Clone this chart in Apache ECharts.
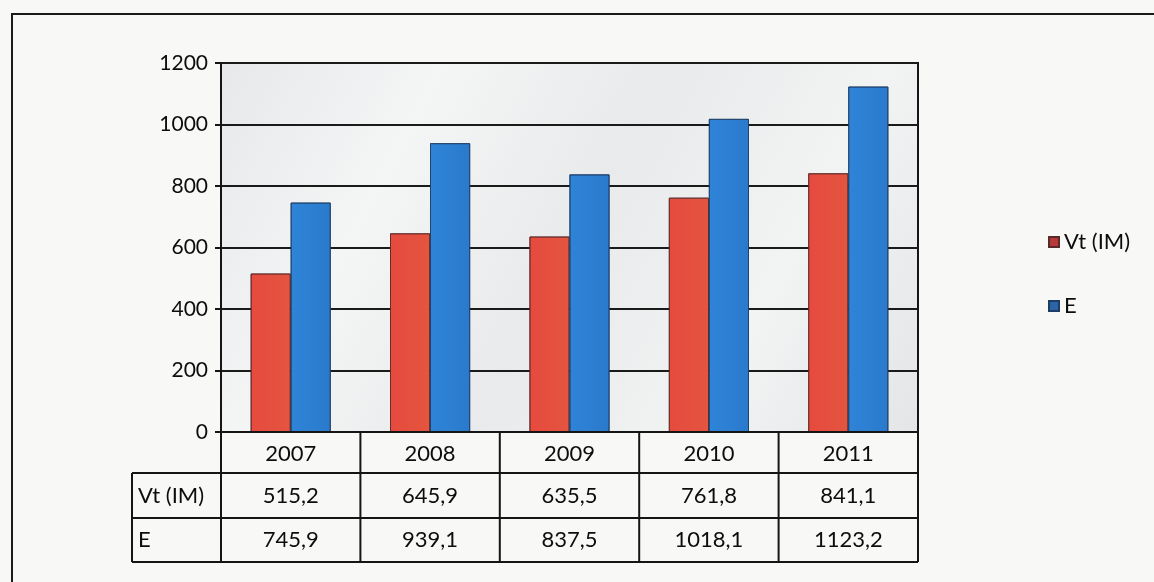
<!DOCTYPE html>
<html>
<head>
<meta charset="utf-8">
<script src="https://cdn.jsdelivr.net/npm/echarts@6/dist/echarts.min.js"></script>
<style>
  html, body { margin: 0; padding: 0; background: #f8f8f6; }
  #chart { width: 1154px; height: 582px; }
</style>
</head>
<body>
<div id="chart"></div>
<script>
const categories = ['2007', '2008', '2009', '2010', '2011'];
const seriesNames = ['Vt (IM)', 'E'];
const vtValues = [515.2, 645.9, 635.5, 761.8, 841.1];
const eValues = [745.9, 939.1, 837.5, 1018.1, 1123.2];
const vtLabels = ['515,2', '645,9', '635,5', '761,8', '841,1'];
const eLabels = ['745,9', '939,1', '837,5', '1018,1', '1123,2'];

const FONT = 'Lato, "Open Sans", sans-serif';
const GRID = { left: 221, right: 236, top: 63, bottom: 150 };
const W = 1154, H = 582;

const chart = echarts.init(document.getElementById('chart'), null, { renderer: 'canvas' });

const option = {
  backgroundColor: '#f8f8f6',
  animation: false,
  grid: {
    left: GRID.left, right: GRID.right, top: GRID.top, bottom: GRID.bottom,
    show: true,
    borderColor: '#151515',
    borderWidth: 2,
    backgroundColor: {
      type: 'linear', x: 0, y: 0, x2: 1, y2: 1,
      colorStops: [
        { offset: 0, color: '#e6e8ea' },
        { offset: 0.25, color: '#f4f5f5' },
        { offset: 0.5, color: '#e8eaeb' },
        { offset: 0.75, color: '#f2f3f3' },
        { offset: 1, color: '#e3e5e7' }
      ]
    }
  },
  legend: {
    orient: 'vertical',
    left: 1043,
    top: 226,
    itemWidth: 10,
    itemHeight: 10,
    itemGap: 42,
    icon: 'rect',
    textStyle: { fontFamily: FONT, fontSize: 22, color: '#0d0d0d' },
    data: [
      { name: seriesNames[0], itemStyle: { color: '#b8393a' } },
      { name: seriesNames[1], itemStyle: { color: '#2d64a6' } }
    ]
  },
  xAxis: {
    type: 'category',
    data: categories,
    axisLine: { show: true, lineStyle: { color: '#151515', width: 2 } },
    axisTick: { show: false },
    axisLabel: { show: false },
    splitLine: { show: false }
  },
  yAxis: {
    type: 'value',
    min: 0,
    max: 1200,
    interval: 200,
    axisLine: { show: true, lineStyle: { color: '#151515', width: 2 } },
    axisTick: { show: true, length: 6, lineStyle: { color: '#151515', width: 2 } },
    axisLabel: {
      fontFamily: FONT, fontSize: 21, color: '#0d0d0d', margin: 13,
      formatter: v => String(v)
    },
    splitLine: { show: true, lineStyle: { color: '#1a1a1a', width: 2 } }
  },
  series: [
    {
      name: seriesNames[0], type: 'bar', data: vtValues,
      barWidth: 40, barGap: '0%',
      itemStyle: {
        color: { type: 'linear', x: 0, y: 0, x2: 1, y2: 0,
          colorStops: [{ offset: 0, color: '#e64a3e' }, { offset: 1, color: '#e4553f' }] },
        borderColor: '#5a2a2a', borderWidth: 0.8
      }
    },
    {
      name: seriesNames[1], type: 'bar', data: eValues,
      barWidth: 40,
      itemStyle: {
        color: { type: 'linear', x: 0, y: 0, x2: 1, y2: 0,
          colorStops: [{ offset: 0, color: '#2f84d8' }, { offset: 1, color: '#2a7acc' }] },
        borderColor: '#1d3d66', borderWidth: 0.8
      }
    }
  ]
};

chart.setOption(option);

// Data table below the plot, aligned with the category bands of the x axis
function buildTable() {
  const gl = GRID.left, gr = W - GRID.right;
  const y0 = H - GRID.bottom;       // 0 line
  const rowB = [y0, 473, 518, 562]; // row boundaries
  const labelLeft = 132;
  const n = categories.length;
  const band = (gr - gl) / n;
  const els = [];
  const line = (x1, y1, x2, y2) => els.push({
    type: 'line', silent: true, z: 10,
    shape: { x1, y1, x2, y2 },
    style: { stroke: '#151515', lineWidth: 2 }
  });
  const text = (x, y, t, align) => els.push({
    type: 'text', silent: true, z: 11,
    x, y,
    style: { text: t, fill: '#0d0d0d', font: '22px ' + FONT, align: align || 'center', verticalAlign: 'middle' }
  });
  // horizontal lines
  line(gl, rowB[0], gr, rowB[0]);
  line(labelLeft, rowB[1], gr, rowB[1]);
  line(labelLeft, rowB[2], gr, rowB[2]);
  line(labelLeft, rowB[3], gr, rowB[3]);
  // vertical lines
  line(labelLeft, rowB[1], labelLeft, rowB[3]);
  for (let i = 0; i <= n; i++) {
    const x = gl + band * i;
    line(x, rowB[0], x, rowB[3]);
  }
  // texts
  for (let i = 0; i < n; i++) {
    const cx = chart.convertToPixel({ xAxisIndex: 0 }, categories[i]);
    text(cx, (rowB[0] + rowB[1]) / 2 + 1, categories[i]);
    text(cx, (rowB[1] + rowB[2]) / 2, vtLabels[i]);
    text(cx, (rowB[2] + rowB[3]) / 2, eLabels[i]);
  }
  text(labelLeft + 6, (rowB[1] + rowB[2]) / 2, seriesNames[0], 'left');
  text(labelLeft + 6, (rowB[2] + rowB[3]) / 2, seriesNames[1], 'left');
  // outer frame of the picture
  els.push({
    type: 'polyline', silent: true, z: 10,
    shape: { points: [[12, H + 2], [12, 14], [W + 2, 14]] },
    style: { stroke: '#1a1a1a', lineWidth: 2, fill: null }
  });
  chart.setOption({ graphic: { elements: els } });
}
buildTable();
</script>
</body>
</html>
